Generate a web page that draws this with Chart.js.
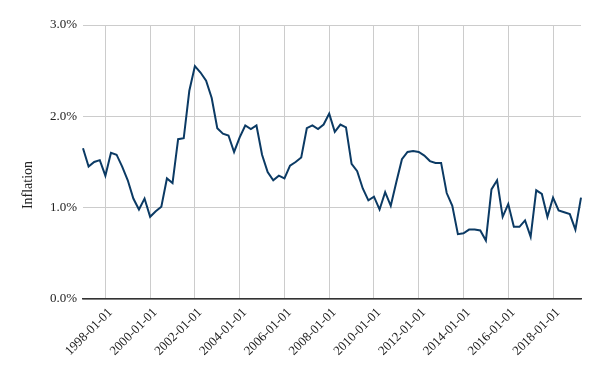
<!DOCTYPE html>
<html>
<head>
<meta charset="utf-8">
<script src="https://cdn.jsdelivr.net/npm/chart.js@4/dist/chart.umd.min.js"></script>
<style>
  html, body { margin: 0; padding: 0; background: #fff; }
</style>
</head>
<body>
<canvas id="chart" width="600" height="371"></canvas>
<script>
// quarterly inflation, 1997-01-01 .. 2019-04-01 (percent)
const startYear = 1997;
const inflation = [
    1.65, 1.45, 1.50, 1.52, 1.35, 1.60, 1.58, 1.45, 1.30, 1.10,
    0.98, 1.10, 0.90, 0.96, 1.01, 1.32, 1.27, 1.75, 1.76, 2.28,
    2.55, 2.48, 2.39, 2.20, 1.87, 1.81, 1.79, 1.61, 1.77, 1.90,
    1.86, 1.90, 1.58, 1.39, 1.30, 1.35, 1.32, 1.46, 1.50, 1.55,
    1.87, 1.90, 1.86, 1.91, 2.03, 1.83, 1.91, 1.88, 1.48, 1.40,
    1.21, 1.08, 1.12, 0.98, 1.17, 1.02, 1.28, 1.53, 1.61, 1.62,
    1.61, 1.57, 1.51, 1.49, 1.49, 1.16, 1.02, 0.71, 0.72, 0.76,
    0.76, 0.75, 0.64, 1.20, 1.30, 0.90, 1.04, 0.79, 0.79, 0.86,
    0.68, 1.19, 1.15, 0.90, 1.11, 0.97, 0.95, 0.93, 0.76, 1.11
];
const tickLabels = [
    "1998-01-01", "2000-01-01", "2002-01-01", "2004-01-01", "2006-01-01",
    "2008-01-01", "2010-01-01", "2012-01-01", "2014-01-01", "2016-01-01",
    "2018-01-01"
];
const yTicks = [0, 1, 2, 3];
const axisTitle = "Inflation";

const quarterMonths = ["01", "04", "07", "10"];
const dates = inflation.map((v, i) => {
    const year = startYear + Math.floor(i / 4);
    return year + "-" + quarterMonths[i % 4] + "-01";
});

const serif = "'Liberation Serif', 'DejaVu Serif', serif";

// y title centred on the whole plot height (incl. x labels), like the original
const sideTitle = {
    id: "sideTitle",
    afterDraw(chart) {
        const ctx = chart.ctx;
        ctx.save();
        ctx.translate(28, 185);
        ctx.rotate(-Math.PI / 2);
        ctx.font = "14px " + serif;
        ctx.fillStyle = "#222";
        ctx.textAlign = "center";
        ctx.textBaseline = "middle";
        ctx.fillText(axisTitle, 0, 0);
        ctx.restore();
    }
};

new Chart(document.getElementById("chart"), {
    type: "line",
    data: {
        labels: dates,
        datasets: [
            {
                data: inflation,
                borderColor: "#0b3a64",
                borderWidth: 2,
                pointRadius: 0,
                tension: 0,
                fill: false
            }
        ]
    },
    options: {
        responsive: false,
        animation: false,
        layout: {
            padding: { left: 0, right: 19, top: 25, bottom: 0 }
        },
        plugins: {
            legend: { display: false },
            tooltip: { enabled: false }
        },
        scales: {
            x: {
                type: "category",
                offset: false,
                border: { display: true, color: "#333", width: 1.5 },
                grid: { color: "#cccccc", drawTicks: false },
                afterFit(scale) {
                    scale.height = 72;
                },
                ticks: {
                    autoSkip: false,
                    maxRotation: 45,
                    minRotation: 45,
                    padding: 6,
                    labelOffset: 5,
                    color: "#222",
                    font: { family: serif, size: 13 },
                    callback(value) {
                        const label = this.getLabelForValue(value);
                        return tickLabels.includes(label) ? label : null;
                    }
                }
            },
            y: {
                min: yTicks[0],
                max: yTicks[yTicks.length - 1],
                border: { display: false },
                grid: { color: "#cccccc", drawTicks: false },
                afterFit(scale) {
                    scale.width = 83;
                },
                afterBuildTicks(scale) {
                    scale.ticks = yTicks.map(v => ({ value: v }));
                },
                ticks: {
                    padding: 6,
                    color: "#222",
                    font: { family: serif, size: 13 },
                    callback: (v) => v.toFixed(1) + "%"
                }
            }
        }
    },
    plugins: [sideTitle]
});
</script>
</body>
</html>
